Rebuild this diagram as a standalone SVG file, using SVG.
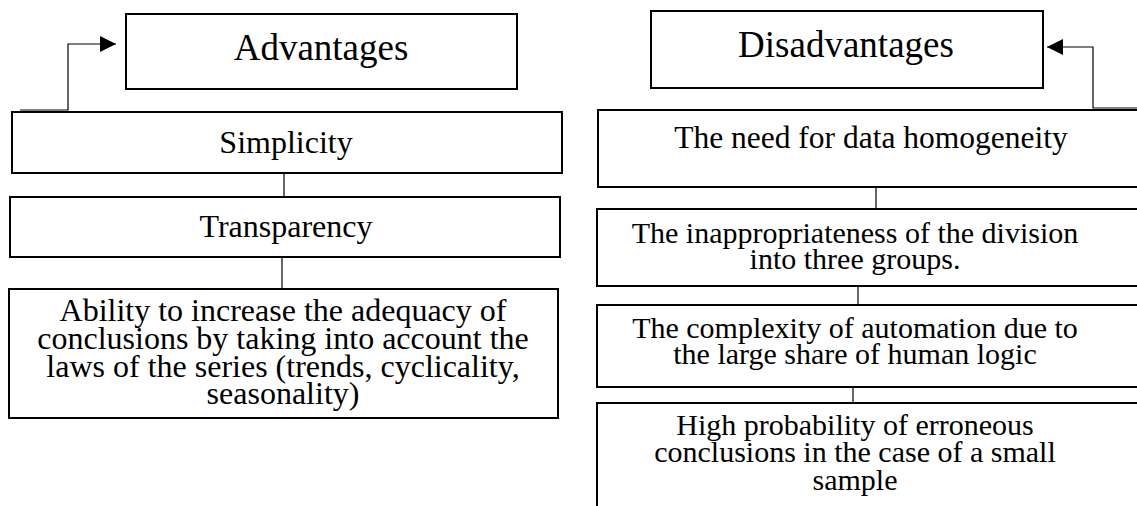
<svg xmlns="http://www.w3.org/2000/svg" width="1137" height="506" viewBox="0 0 1137 506">
<style>
.box{fill:#fff;stroke:#000;stroke-width:2}
.t{font-family:"Liberation Serif","Times New Roman",serif;fill:#000;text-anchor:middle}
.h{font-size:37px}
.l{font-size:32px}
.r{font-size:30px}
.c{fill:none;stroke:#000;stroke-width:1.2}
</style>
<defs>
<marker id="ah" markerWidth="16" markerHeight="16" refX="16" refY="8" orient="auto" markerUnits="userSpaceOnUse">
<path d="M0,0 L16,8 L0,16 Z" fill="#000"/>
</marker>
</defs>
<rect width="1137" height="506" fill="#fff"/>
<g id="connectors">
<path class="c" d="M20,110 L68,110 L68,44 L116,44" marker-end="url(#ah)"/>
<path class="c" d="M1137,108 L1093,108 L1093,47 L1047,47" marker-end="url(#ah)"/>
<line class="c" x1="284" y1="173" x2="284" y2="197"/>
<line class="c" x1="282" y1="257" x2="282" y2="289"/>
<line class="c" x1="876" y1="187" x2="876" y2="209"/>
<line class="c" x1="858" y1="286" x2="858" y2="305"/>
<line class="c" x1="853" y1="384" x2="853" y2="403"/>
</g>
<g id="advantages">
<rect class="box" x="126" y="14" width="391" height="75"/>
<text class="t h" x="321" y="60">Advantages</text>
</g>
<g id="simplicity">
<rect class="box" x="12" y="112" width="550" height="61"/>
<text class="t l" x="286" y="153">Simplicity</text>
</g>
<g id="transparency">
<rect class="box" x="10" y="197" width="550" height="60"/>
<text class="t l" x="286" y="237">Transparency</text>
</g>
<g id="ability">
<rect class="box" x="9" y="289" width="549" height="129"/>
<text class="t l" x="283" y="321">Ability to increase the adequacy of</text>
<text class="t l" x="283" y="349">conclusions by taking into account the</text>
<text class="t l" x="283" y="377">laws of the series (trends, cyclicality,</text>
<text class="t l" x="283" y="404">seasonality)</text>
</g>
<g id="disadvantages">
<rect class="box" x="651" y="11" width="392" height="77"/>
<text class="t h" x="846" y="57">Disadvantages</text>
</g>
<g id="need">
<rect class="box" x="598" y="110" width="547" height="77"/>
<text class="t" style="font-size:31.5px" x="871" y="148">The need for data homogeneity</text>
</g>
<g id="inappropriateness">
<rect class="box" x="597" y="209" width="550" height="77"/>
<text class="t r" x="855" y="243">The inappropriateness of the division</text>
<text class="t r" x="855" y="269">into three groups.</text>
</g>
<g id="complexity">
<rect class="box" x="597" y="305" width="550" height="82"/>
<text class="t r" x="855" y="338">The complexity of automation due to</text>
<text class="t r" x="855" y="364">the large share of human logic</text>
</g>
<g id="probability">
<rect class="box" x="597" y="403" width="550" height="120"/>
<text class="t r" x="855" y="435">High probability of erroneous</text>
<text class="t r" x="855" y="462">conclusions in the case of a small</text>
<text class="t r" x="855" y="490">sample</text>
</g>
</svg>
